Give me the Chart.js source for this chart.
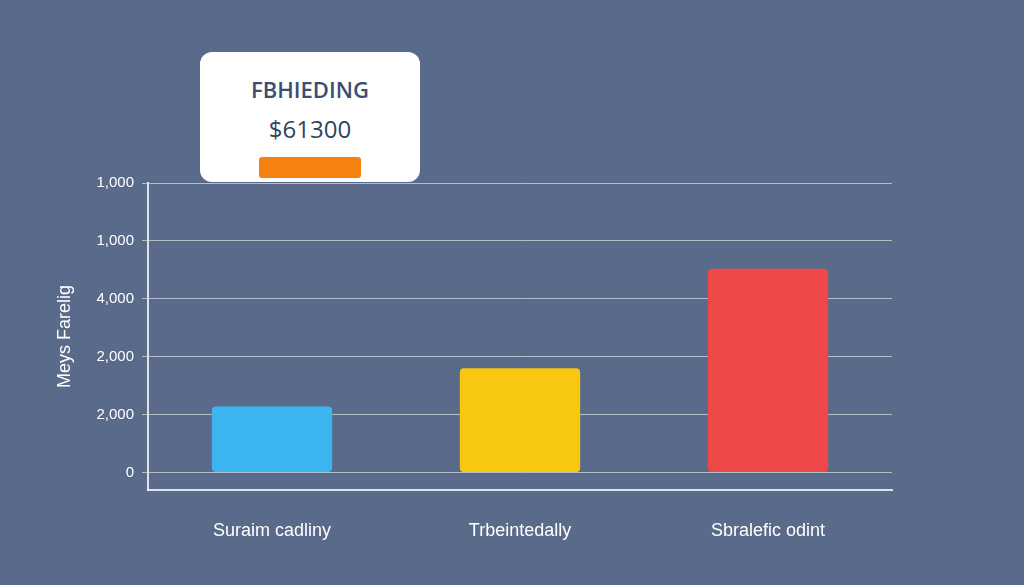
<!DOCTYPE html>
<html><head><meta charset="utf-8">
<script src="https://cdn.jsdelivr.net/npm/chart.js@4"></script>
<style>
html,body{margin:0;padding:0;background:#5a6a8a;width:1024px;height:585px;overflow:hidden;font-family:"Open Sans",sans-serif}
#wrap{position:absolute;left:0;top:0;width:1024px;height:585px}
#card{position:absolute;left:200px;top:52px;width:220px;height:130px;background:#fff;border-radius:12px;text-align:center;color:#3a4a6a}
#card .t{margin-top:22px;font-size:22px;font-weight:600;color:#3b4f72}
#card .v{margin-top:8px;font-size:24px;color:#33425f}
#card .b{margin:12px auto 0;width:102px;height:21px;background:#f5820f;border-radius:3px}
</style></head><body>
<div id="wrap"><canvas id="c" width="1024" height="585"></canvas></div>
<div id="card"><div class="t">FBHIEDING</div><div class="v">$61300</div><div class="b"></div></div>
<script>
const categories=["Suraim cadliny","Trbeintedally","Sbralefic odint"];
const values=[1.14,1.8,3.52];
const tickLabels=["0","2,000","2,000","4,000","1,000","1,000"];
const barColors=["#3cb4f0","#f8c811","#ee4848"];
const yTitle="Meys Farelig";
new Chart(document.getElementById('c'),{type:'bar',
data:{labels:categories,datasets:[{data:values,backgroundColor:barColors,borderRadius:4,borderSkipped:false,barPercentage:0.97,categoryPercentage:0.5}]},
options:{responsive:false,animation:false,
layout:{padding:{left:50,right:132,top:183,bottom:0}},
plugins:{legend:{display:false},tooltip:{enabled:false}},
scales:{
y:{min:-0.3,max:5,ticks:{stepSize:1,color:'#fff',font:{size:15},padding:8,callback:(v)=>tickLabels[v]},
afterBuildTicks:s=>{s.ticks=s.ticks.filter(t=>t.value>=0&&Number.isInteger(t.value));},
afterFit:s=>{s.width=98;},
grid:{color:'rgba(255,255,255,0.55)',drawTicks:true,tickLength:6},border:{color:'rgba(255,255,255,0.8)',width:2},
title:{display:true,text:yTitle,color:'#fff',font:{size:18}}},
x:{ticks:{color:'#fff',font:{size:18},padding:22},grid:{display:false},border:{color:'rgba(255,255,255,0.8)',width:2},
afterFit:s=>{s.height=95;}}
}}});
</script></body></html>
